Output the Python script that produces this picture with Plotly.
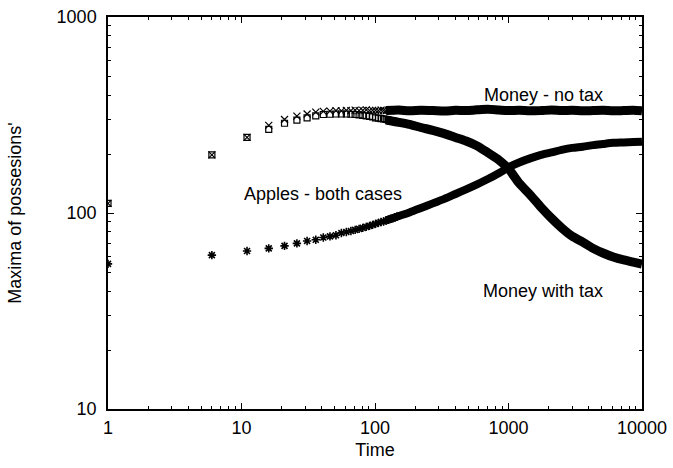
import plotly.graph_objects as go

# early time steps, drawn as separate markers
t_early = [1, 6, 11, 16, 21, 26, 31, 36, 41, 46, 51, 56, 61, 66, 71, 76, 81, 86, 91, 96,
           101, 106, 111, 116, 121, 126, 131, 136, 141, 146]
notax_early = [112, 198, 243, 280, 300, 312, 320, 327, 330, 331, 333, 332, 334, 333, 335, 333, 334, 336, 333, 334,
               334, 333, 335, 334, 332, 334, 333, 335, 334, 333]
tax_early = [112, 198, 243, 267, 287, 298, 306, 313, 318, 319, 320, 320, 320, 319, 318, 317, 315, 313, 311, 309,
             306, 305, 303, 302, 300, 298, 296, 295, 293, 292]
apples_early = [55, 61, 64, 66, 68, 70, 72, 73, 75, 76, 77, 79, 80, 81, 82, 83, 84, 85, 86, 87,
                88, 89, 90, 90.5, 91.5, 92.5, 93.5, 94, 95, 96]

# later time steps: points so dense they form a thick band
t_late = [121, 151, 181, 221, 271, 331, 401, 481, 581, 701, 851, 1001, 1201, 1451,
          1751, 2101, 2501, 3001, 3601, 4301, 5101, 6101, 7301, 8601, 9996]
notax_late = [333, 335, 332, 334, 333, 331, 334, 333, 336, 338, 335, 333, 334, 332,
              333, 335, 333, 334, 332, 333, 334, 332, 333, 334, 332]
tax_late = [298, 290, 283, 273, 264, 254, 243, 233, 220, 203, 186, 168, 142, 124,
            107, 94, 84, 76, 71, 66, 62.5, 59.6, 57.6, 56.2, 54.9]
apples_late = [91.6, 96.5, 100.6, 106, 112, 118, 125, 132, 140, 149, 160, 171, 181, 190,
               198, 204, 210, 215, 218, 222, 225, 228, 229, 230, 231]

x_ticks = [1, 10, 100, 1000, 10000]
y_ticks = [10, 100, 1000]

FONT = "Liberation Sans, Arial, Helvetica, sans-serif"

fig = go.Figure()

# dense bands
for ys, w in [(notax_late, 9), (tax_late, 9), (apples_late, 8)]:
    fig.add_trace(go.Scatter(
        x=t_late, y=ys, mode='lines',
        line=dict(color='black', width=w, shape='spline', smoothing=0.8),
        showlegend=False, hoverinfo='skip'
    ))

# sparse markers
fig.add_trace(go.Scatter(
    x=t_early, y=notax_early, mode='markers', name='Money - no tax',
    marker=dict(symbol='x-thin', size=7, line=dict(color='black', width=1.2))
))
fig.add_trace(go.Scatter(
    x=t_early, y=tax_early, mode='markers', name='Money with tax',
    marker=dict(symbol='square-open', size=6, color='black', line=dict(color='black', width=1.2))
))
fig.add_trace(go.Scatter(
    x=t_early, y=apples_early, mode='markers', name='Apples - both cases',
    marker=dict(symbol='asterisk', size=7, line=dict(color='black', width=1.6))
))

fig.add_annotation(x=3.26, y=2.60, xref='x', yref='y', text='Money - no tax',
                   showarrow=False, font=dict(size=18, color='black', family=FONT))
fig.add_annotation(x=3.26, y=1.60, xref='x', yref='y', text='Money with tax',
                   showarrow=False, font=dict(size=18, color='black', family=FONT))
fig.add_annotation(x=1.61, y=2.097, xref='x', yref='y', text='Apples - both cases',
                   showarrow=False, font=dict(size=18, color='black', family=FONT))

axis_common = dict(
    type='log', showgrid=False, zeroline=False, automargin=False,
    showline=True, linecolor='black', linewidth=1.5, mirror='allticks',
    ticks='inside', ticklen=6, tickwidth=1, tickcolor='black',
    ticklabeloverflow='allow',
    tickfont=dict(size=18, color='black', family=FONT),
)

fig.update_xaxes(
    **axis_common, range=[0, 4],
    tickmode='array', tickvals=x_ticks, ticktext=[str(v) for v in x_ticks],
    ticklabelstandoff=2,
    minor=dict(tickmode='array', tickvals=[k * 10 ** d for d in range(4) for k in range(2, 10)],
               ticks='inside', ticklen=3, tickcolor='black', showgrid=False),
    title=dict(text='Time', font=dict(size=18, color='black', family=FONT), standoff=6),
)
fig.update_yaxes(
    **axis_common, range=[1, 3],
    tickmode='array', tickvals=y_ticks, ticktext=[str(v) for v in y_ticks],
    ticklabelstandoff=6,
    minor=dict(tickmode='array', tickvals=[k * 10 ** d for d in range(1, 3) for k in range(2, 10)],
               ticks='inside', ticklen=3, tickcolor='black', showgrid=False),
    title=dict(text="Maxima of possesions'", font=dict(size=18, color='black', family=FONT), standoff=30),
)

fig.update_layout(
    width=673, height=468, autosize=False,
    margin=dict(l=108, r=31, t=17, b=59),
    paper_bgcolor='white', plot_bgcolor='white',
    showlegend=False,
)

# drop the default 8px page margin so the figure fills the window exactly
fig.write_html(
    "out.html",
    config={'displayModeBar': False},
    post_script="document.body.style.margin='0';document.body.style.overflow='hidden';",
)
